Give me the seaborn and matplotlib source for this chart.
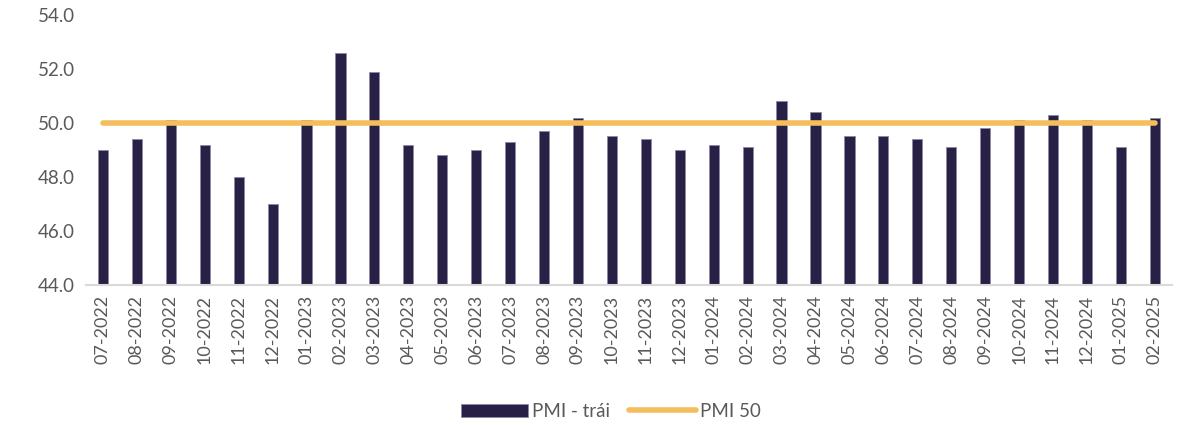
import numpy as np
import pandas as pd
import seaborn as sns
import matplotlib.pyplot as plt
from matplotlib.ticker import FixedLocator, FormatStrFormatter

months = ['07-2022', '08-2022', '09-2022', '10-2022', '11-2022', '12-2022',
          '01-2023', '02-2023', '03-2023', '04-2023', '05-2023', '06-2023',
          '07-2023', '08-2023', '09-2023', '10-2023', '11-2023', '12-2023',
          '01-2024', '02-2024', '03-2024', '04-2024', '05-2024', '06-2024',
          '07-2024', '08-2024', '09-2024', '10-2024', '11-2024', '12-2024',
          '01-2025', '02-2025']
pmi = [49.0, 49.4, 50.1, 49.2, 48.0, 47.0,
       50.1, 52.6, 51.9, 49.2, 48.8, 49.0,
       49.3, 49.7, 50.2, 49.5, 49.4, 49.0,
       49.2, 49.1, 50.8, 50.4, 49.5, 49.5,
       49.4, 49.1, 49.8, 50.1, 50.3, 50.1,
       49.1, 50.2]
pmi_50 = [50.0] * len(months)

df = pd.DataFrame({'month': months, 'pmi': pmi, 'pmi50': pmi_50})

sns.set_style('white')
plt.rcParams['font.family'] = ['Lato', 'DejaVu Sans']

bar_color = '#261a4b'
line_color = '#f4be5c'
text_color = '#595959'

fig = plt.figure(figsize=(11.86, 4.26), dpi=100)
ax = fig.add_axes([0.0725, 0.331, 0.9155, 0.634])

sns.barplot(data=df, x='month', y='pmi', color=bar_color, width=0.3,
            edgecolor='#8e86a8', linewidth=0.6, ax=ax, label='PMI - trái')
sns.lineplot(x=np.arange(len(months)), y=df['pmi50'], color=line_color,
             linewidth=4, solid_capstyle='round', ax=ax, label='PMI 50')

ax.set_ylim(44, 54)
ax.set_xlim(-0.5, len(months) - 0.5)
ax.set_yticks(np.arange(44, 54.1, 2))
ax.yaxis.set_major_formatter(FormatStrFormatter('%.1f'))
ax.set_xlabel('')
ax.set_ylabel('')

for s in ['top', 'right', 'left']:
    ax.spines[s].set_visible(False)
ax.spines['bottom'].set_color('#d9d9d9')
ax.spines['bottom'].set_linewidth(1.5)

ax.tick_params(axis='y', length=0, labelsize=13.5, colors=text_color, pad=8)
ax.tick_params(axis='x', which='major', length=0, labelsize=13,
               colors=text_color, rotation=90, pad=7)
ax.xaxis.set_minor_locator(FixedLocator(np.arange(-0.5, len(months), 1)))
ax.tick_params(axis='x', which='minor', length=6, width=1.2, color='#d9d9d9')

ax.get_legend().remove()
handles, labels = ax.get_legend_handles_labels()
order = [labels.index('PMI - trái'), labels.index('PMI 50')]
leg = fig.legend([handles[i] for i in order], [labels[i] for i in order],
                 loc='lower center', bbox_to_anchor=(0.515, -0.025),
                 ncol=2, frameon=False, fontsize=13.5, handlelength=3.6,
                 columnspacing=1.0, handletextpad=0.2)
for t in leg.get_texts():
    t.set_color(text_color)

fig.savefig('out.png', dpi=100)
